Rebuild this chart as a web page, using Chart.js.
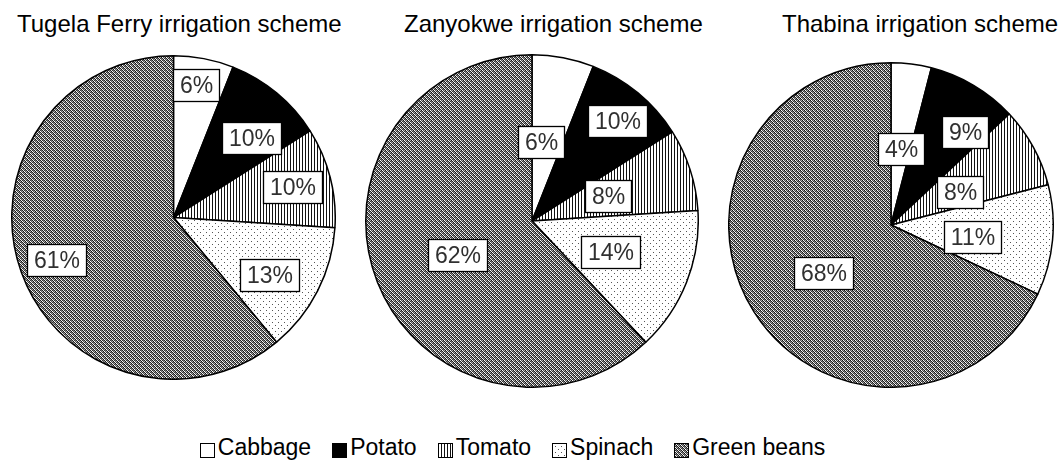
<!DOCTYPE html>
<html><head><meta charset="utf-8">
<script src="https://cdn.jsdelivr.net/npm/chart.js@4.4.1/dist/chart.umd.min.js"></script>
<style>
html,body{margin:0;padding:0;background:#fff;width:1062px;height:464px;overflow:hidden;font-family:"Liberation Sans",Arial,sans-serif;}
.pie{position:absolute;}
.title{position:absolute;top:12px;font-size:24px;line-height:24px;white-space:nowrap;color:#000;}
#legend{position:absolute;left:0;top:436px;width:1025px;display:flex;justify-content:center;font-size:23px;line-height:23px;color:#000;}
.item{display:flex;align-items:flex-start;margin:0 10.5px;white-space:nowrap;}
.item canvas{position:relative;top:7px;margin-right:3px;}
</style></head>
<body>
<div id="wrap"></div>
<div id="legend"></div>
<script>
// ---- data ----
const categories = ['Cabbage', 'Potato', 'Tomato', 'Spinach', 'Green beans'];
const schemes = ['Tugela Ferry irrigation scheme', 'Zanyokwe irrigation scheme', 'Thabina irrigation scheme'];
const tugelaFerry = [6, 10, 10, 13, 61];
const zanyokwe = [6, 10, 8, 14, 62];
const thabina = [4, 9, 8, 11, 68];
const seriesList = [tugelaFerry, zanyokwe, thabina];

// ---- layout (kept separate from data) ----
const pieBoxes = [{left:11, top:55, size:325}, {left:365, top:54, size:334}, {left:728, top:62, size:326}];
const titleLeft = [17, 404, 782];
const labelRadius = [[0.83,0.69,0.76,0.69,0.77],[0.48,0.79,0.48,0.51,0.49],[0.47,0.73,0.47,0.51,0.51]];
const labelShiftDeg = [[-1,5,0,4,0],[-4,1,0,0,-3],[0,8,3,3,-3]];

// ---- patterns ----
function makePattern(w, h, draw) {
  const c = document.createElement('canvas'); c.width = w; c.height = h;
  const x = c.getContext('2d'); draw(x); return x.createPattern(c, 'repeat');
}
const pCabbage = '#ffffff';
const pPotato = '#000000';
const pTomato = makePattern(3, 1, x => { x.fillStyle = '#fff'; x.fillRect(0,0,3,1); x.fillStyle = '#111'; x.fillRect(0,0,1,1); });
const pSpinach = makePattern(6, 6, x => { x.fillStyle = '#fff'; x.fillRect(0,0,6,6); x.fillStyle = '#555'; x.fillRect(0,0,1,1); x.fillRect(3,3,1,1); });
const gbTile = ['#111','#fff','#555','#aaa', '#777','#222','#eee','#333', '#555','#aaa','#111','#fff', '#eee','#333','#777','#222'];
const pGreen = makePattern(4, 4, x => { gbTile.forEach((c,i) => { x.fillStyle = c; x.fillRect(i%4, Math.floor(i/4), 1, 1); }); });
const fills = [pCabbage, pPotato, pTomato, pSpinach, pGreen];

// ---- charts ----
const wrap = document.getElementById('wrap');
seriesList.forEach((values, k) => {
  const b = pieBoxes[k];
  const t = document.createElement('div'); t.className = 'title'; t.style.left = titleLeft[k] + 'px'; t.textContent = schemes[k];
  wrap.appendChild(t);
  const cv = document.createElement('canvas'); cv.className = 'pie';
  cv.style.left = b.left + 'px'; cv.style.top = b.top + 'px';
  cv.width = b.size; cv.height = b.size; cv.style.width = b.size + 'px'; cv.style.height = b.size + 'px';
  wrap.appendChild(cv);
  const labelPlugin = {
    id: 'boxLabels' + k,
    afterDatasetsDraw(chart) {
      const meta = chart.getDatasetMeta(0); const ctx = chart.ctx;
      ctx.save();
      ctx.font = '23px "Liberation Sans", Arial, sans-serif';
      ctx.textAlign = 'center'; ctx.textBaseline = 'middle';
      meta.data.forEach((arc, i) => {
        const p = arc.getProps(['x','y','startAngle','endAngle','outerRadius'], true);
        const a = (p.startAngle + p.endAngle) / 2 + labelShiftDeg[k][i] * Math.PI / 180;
        const r = p.outerRadius * labelRadius[k][i];
        const cx = p.x + Math.cos(a) * r, cy = p.y + Math.sin(a) * r;
        const txt = chart.data.datasets[0].data[i] + '%';
        const tw = ctx.measureText(txt).width; const bw = Math.round(tw + 13), bh = 32;
        const x0 = Math.round(cx - bw/2) + 0.5, y0 = Math.round(cy - bh/2) + 0.5;
        ctx.fillStyle = '#fff'; ctx.fillRect(x0, y0, bw, bh);
        ctx.strokeStyle = '#000'; ctx.lineWidth = 1.3; ctx.strokeRect(x0, y0, bw, bh);
        ctx.fillStyle = '#303030'; ctx.fillText(txt, x0 + bw/2, y0 + bh/2 + 1);
      });
      ctx.restore();
    }
  };
  new Chart(cv.getContext('2d'), {
    type: 'pie',
    data: { labels: categories, datasets: [{ data: values, backgroundColor: fills, borderColor: '#000', borderWidth: 1.5, hoverOffset: 0 }] },
    options: {
      responsive: false, animation: false, events: [],
      layout: { padding: 0 },
      plugins: { legend: { display: false }, tooltip: { enabled: false }, title: { display: false } }
    },
    plugins: [labelPlugin]
  });
});

// ---- legend ----
const legend = document.getElementById('legend');
categories.forEach((name, i) => {
  const it = document.createElement('div'); it.className = 'item';
  const sw = document.createElement('canvas'); sw.width = 15; sw.height = 15;
  const sx = sw.getContext('2d');
  sx.fillStyle = fills[i]; sx.fillRect(0, 0, 15, 15);
  sx.strokeStyle = '#000'; sx.lineWidth = 1; sx.strokeRect(0.5, 0.5, 14, 14);
  it.appendChild(sw);
  const s = document.createElement('span'); s.textContent = name; it.appendChild(s);
  legend.appendChild(it);
});
</script>
</body></html>
